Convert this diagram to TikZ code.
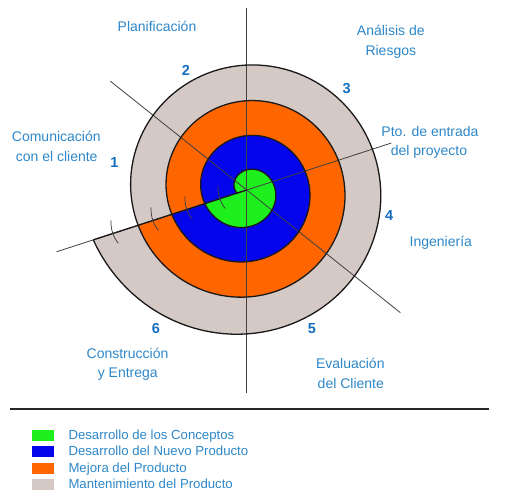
\documentclass[tikz,border=0pt]{standalone}
\usepackage{fontspec}
\setmainfont{Liberation Sans}
\usetikzlibrary{calc}
\definecolor{cgreen}{RGB}{30,240,30}
\definecolor{cblue}{RGB}{5,5,235}
\definecolor{corange}{RGB}{255,102,0}
\definecolor{cgray}{RGB}{212,201,196}
\definecolor{clabel}{RGB}{45,135,200}
\definecolor{cnum}{RGB}{20,110,190}
\begin{document}
\begin{tikzpicture}[x=1pt,y=-1pt,
  declare function={sr(\t)=10+0.09344*\t+2.794*(\t/1000)^2+11*(max(\t-1340,0)/100)^2;},
  lbl/.style={text=clabel,font=\fontsize{14}{16}\selectfont,inner sep=0pt,anchor=base},
  num/.style={text=cnum,font=\fontsize{14.5}{16}\selectfont\bfseries,inner sep=0pt,anchor=base},
  leg/.style={text=clabel,font=\fontsize{13.2}{15}\selectfont,inner sep=0pt,anchor=base west},
  guide/.style={draw=black!75,line width=0.8pt},
  edgeline/.style={draw=black!90,line width=1.3pt,line join=round},
  tickline/.style={draw=black!75,line width=0.75pt},
  swatch/.style={minimum width=22pt,minimum height=11pt,inner sep=0pt,draw=none}
]
\useasboundingbox (0,0) rectangle (513,501);
\coordinate (C) at (246.7,190);
% spiral bands
\begin{scope}[shift={(C)}]
  \fill[cgray] (0,0) -- plot[domain=1080:1440,samples=120,variable=\t] ({\t-198}:{sr(\t)}) -- cycle;
  \fill[corange] (0,0) -- plot[domain=720:1080,samples=120,variable=\t] ({\t-198}:{sr(\t)}) -- cycle;
  \fill[cblue] (0,0) -- plot[domain=360:720,samples=120,variable=\t] ({\t-198}:{sr(\t)}) -- cycle;
  \fill[cgreen] (0,0) -- plot[domain=0:360,samples=120,variable=\t] ({\t-198}:{sr(\t)}) -- cycle;
\end{scope}
% guide lines
\coordinate (V1) at (246.7,8);
\coordinate (V2) at (246.7,393);
\coordinate (D1) at ($(C)+(-141.4:174.4)$);
\coordinate (D2) at ($(C)+(38.6:196.7)$);
\coordinate (L1) at ($(C)+(162:200)$);
\coordinate (R1) at ($(C)+(-18:152)$);
\coordinate (Lend) at ($(C)+(162:161.3)$);
\draw[guide] (V1) -- (V2);
\draw[guide] (D1) -- (D2);
\draw[guide] (L1) -- (R1);
% spiral outline
\begin{scope}[shift={(C)}]
  \draw[edgeline] plot[domain=0:1440,samples=480,variable=\t] ({\t-198}:{sr(\t)});
\end{scope}
\draw[edgeline] (C) -- (Lend);
% ticks on the cut line
\foreach \d/\n in {26/1,60.7/2,96.4/3,138.5/4}{
  \coordinate (P\n) at ($(C)+(162:\d)$);
  \draw[tickline] ($(P\n)+(252:13)$) .. controls ($(P\n)+(252:5)+(162:3)$) and ($(P\n)+(72:4)+(162:3)$) .. ($(P\n)+(72:11)$);
}
% labels
\node[lbl] (plan) at (157,31.7) {Planificación};
\node[lbl] (anal1) at (390.8,35) {Análisis de};
\node[lbl] (anal2) at (390.8,55) {Riesgos};
\node[lbl] (pto1) at (430,136.7) {Pto. de entrada};
\node[lbl] (pto2) at (429,155) {del proyecto};
\node[lbl] (com1) at (56.3,141.7) {Comunicación};
\node[lbl] (com2) at (56.7,161.7) {con el cliente};
\node[lbl] (ing) at (440.8,246.7) {Ingeniería};
\node[lbl] (con1) at (127.5,358.3) {Construcción};
\node[lbl] (con2) at (127.8,377.3) {y Entrega};
\node[lbl] (eva1) at (350.3,368.3) {Evaluación};
\node[lbl] (eva2) at (350.8,388.3) {del Cliente};
% numbers
\node[num] (n1) at (114.5,167.3) {1};
\node[num] (n2) at (185.8,75) {2};
\node[num] (n3) at (346.7,93.3) {3};
\node[num] (n4) at (389.2,220) {4};
\node[num] (n5) at (312,333.3) {5};
\node[num] (n6) at (155.8,333.3) {6};
% separator
\coordinate (H1) at (10,409.3);
\coordinate (H2) at (489.3,409.3);
\draw[line width=2pt,black!85] (H1) -- (H2);
% legend
\node[swatch,fill=cgreen] (s1) at (43.2,435.5) {};
\node[swatch,fill=cblue] (s2) at (43.2,451.8) {};
\node[swatch,fill=corange] (s3) at (43.2,468.1) {};
\node[swatch,fill=cgray] (s4) at (43.2,484.4) {};
\node[leg] (t1) at (68.3,439.5) {Desarrollo de los Conceptos};
\node[leg] (t2) at (68.3,455.8) {Desarrollo del Nuevo Producto};
\node[leg] (t3) at (68.3,472.1) {Mejora del Producto};
\node[leg] (t4) at (68.3,488.4) {Mantenimiento del Producto};
\end{tikzpicture}
\end{document}
